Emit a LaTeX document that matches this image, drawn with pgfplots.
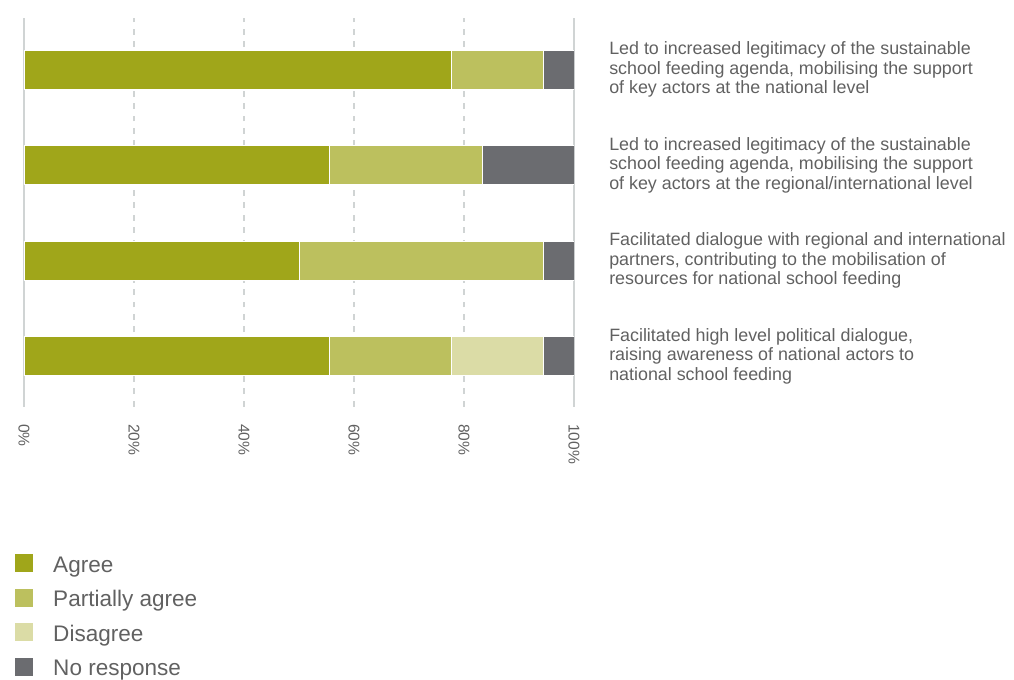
\documentclass[border=0pt]{standalone}
\usepackage{fontspec}
\setmainfont{Liberation Sans}
\usepackage{pgfplots}
\pgfplotsset{compat=1.18}
\definecolor{cAgree}{RGB}{160,166,26}
\definecolor{cPartial}{RGB}{188,192,94}
\definecolor{cDisagree}{RGB}{219,220,166}
\definecolor{cNoResp}{RGB}{107,108,112}
\definecolor{cGrid}{RGB}{208,212,212}
\definecolor{cText}{RGB}{97,97,97}
\begin{document}
\begin{tikzpicture}
\path (0,0) rectangle (760.5pt,-509.25pt);
\begin{axis}[
  at={(18pt,-13.5pt)}, anchor=north west,
  scale only axis, width=412.5pt, height=291.375pt,
  xbar stacked, bar width=29.25pt,
  xmin=0, xmax=100, ymin=-0.526, ymax=3.539,
  axis line style={draw=none},
  major tick length=0pt, tick style={draw=none},
  /pgf/number format/assume math mode=true,
  xtick={20,40,60,80},
  xticklabels={20\%,40\%,60\%,80\%},
  extra x ticks={0,100},
  extra x tick labels={0\%,100\%},
  extra x tick style={major grid style={solid, draw=cGrid, line width=1.1pt}},
  xmajorgrids,
  major grid style={draw=cGrid, line width=1.1pt, dash pattern=on 4.3pt off 5pt},
  xticklabel style={rotate=-90, anchor=west, inner sep=0pt, font=\fontsize{11.7}{14}\selectfont, text=cText},
  xticklabel shift=13pt,
  ytick={0,1,2,3},
  yticklabel pos=right,
  yticklabels={
    {Facilitated high level political dialogue,\\raising awareness of national actors to\\national school feeding},
    {Facilitated dialogue with regional and international\\partners, contributing to the mobilisation of\\resources for national school feeding},
    {Led to increased legitimacy of the sustainable\\school feeding agenda, mobilising the support\\of key actors at the regional/international level},
    {Led to increased legitimacy of the sustainable\\school feeding agenda, mobilising the support\\of key actors at the national level}},
  yticklabel style={anchor=west, align=left, inner sep=0pt, font=\fontsize{13.4}{14.6}\selectfont, text=cText},
  yticklabel shift=26.25pt,
  legend cell align=left,
  legend image code/.code={\path[#1, draw=none] (0pt,-5.25pt) rectangle (13.5pt,8.25pt);},
  legend style={at={(-0.0164,-0.3797)}, anchor=north west, draw=none, fill=none, inner sep=0pt,
    font=\fontsize{16.9}{20}\selectfont, text=cText, row sep=10.4pt,
    nodes={inner sep=0pt, text height=12.5pt, text depth=2pt},
    /tikz/every odd column/.style={column sep=15pt}},
]
\addplot[fill=cAgree, draw=white, line width=0.75pt] coordinates {(55.6,0) (50.0,1) (55.6,2) (77.8,3)};
\addplot[fill=cPartial, draw=white, line width=0.75pt] coordinates {(22.2,0) (44.4,1) (27.8,2) (16.7,3)};
\addplot[fill=cDisagree, draw=white, line width=0.75pt] coordinates {(16.7,0) (0,1) (0,2) (0,3)};
\addplot[fill=cNoResp, draw=white, line width=0.75pt] coordinates {(5.6,0) (5.6,1) (16.7,2) (5.6,3)};
\legend{Agree, Partially agree, Disagree, No response}
\end{axis}
\end{tikzpicture}
\end{document}
